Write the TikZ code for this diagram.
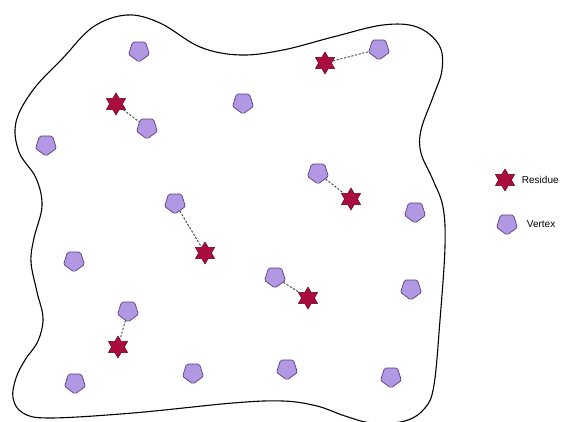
\documentclass[tikz,border=0pt]{standalone}
\usepackage{fontspec}
\setsansfont{Liberation Sans}
\usetikzlibrary{positioning,shapes.geometric}
\definecolor{lavender}{RGB}{178,152,226}
\definecolor{lavenderdark}{RGB}{88,62,130}
\definecolor{crimson}{RGB}{170,12,62}
\definecolor{crimsondark}{RGB}{92,0,32}
\tikzset{
  vert/.style={
    regular polygon,
    regular polygon sides=5,
    shape border rotate=180,
    draw=lavenderdark,
    fill=lavender,
    minimum size=22pt,
    inner sep=0pt,
    line width=.7pt,
    rounded corners=1.5pt
  },
  resid/.style={
    star,
    star points=6,
    star point ratio=1.7,
    draw=crimsondark,
    fill=crimson,
    minimum size=22pt,
    inner sep=0pt,
    line width=.5pt
  },
  link/.style={
    dash pattern=on 2.2pt off 1.6pt,
    line width=.9pt,
    black!75
  },
  legend/.style={
    font=\sffamily\fontsize{10}{12}\selectfont,
    inner sep=0pt
  }
}

\begin{document}
\begin{tikzpicture}[x=1pt,y=-1pt,node distance=10pt]
\useasboundingbox (0,0) rectangle (566,422);
% region outline
\draw[line width=1.1pt, line join=round] plot[smooth cycle, tension=.6] coordinates {
  (93,27) (127,15) (160,23) (200,47) (240,55) (283,50) (333,37) (383,25)
  (417,27) (439,45) (442,70) (433,97) (421,130) (421,153) (433,180)
  (443,207) (445,247) (440,320) (434,385) (425,408) (405,421) (372,423)
  (345,416) (317,406) (283,401) (233,403) (133,413) (50,418) (23,413)
  (13,398) (16,378) (25,360) (38,341) (43,318) (37,292) (31,262)
  (34,238) (42,206) (36,178) (19,152) (16,122) (33,90) (63,58)};
% vertices
\node[vert] (v1) at (139,51) {};
\node[vert] (v2) at (379,49) {};
\node[vert] (v3) at (243,103) {};
\node[vert] (v4) at (147,128) {};
\node[vert] (v5) at (46,145) {};
\node[vert] (v6) at (318,173) {};
\node[vert] (v7) at (415,212) {};
\node[vert] (v8) at (175,203) {};
\node[vert] (v9) at (74,261) {};
\node[vert] (v10) at (275,277) {};
\node[vert] (v11) at (411,289) {};
\node[vert] (v12) at (128,311) {};
\node[vert] (v13) at (75,383) {};
\node[vert] (v14) at (193,373) {};
\node[vert] (v15) at (287,369) {};
\node[vert] (v16) at (391,377) {};
% residues
\node[resid] (r1) at (325,63) {};
\node[resid] (r2) at (116,104) {};
\node[resid] (r3) at (351,199) {};
\node[resid] (r4) at (205,253) {};
\node[resid] (r5) at (308,298) {};
\node[resid] (r6) at (118,347) {};
% pairs
\draw[link] (r1) -- (v2);
\draw[link] (r2) -- (v4);
\draw[link] (v6) -- (r3);
\draw[link] (v8) -- (r4);
\draw[link] (v10) -- (r5);
\draw[link] (v12) -- (r6);
% legend
\node[resid] (kr) at (505,180) {};
\node[legend, right=of kr] (kr-text) {Residue};
\node[vert] (kv) at (507,224) {};
\node[legend, right=of kv] (kv-text) {Vertex};
\end{tikzpicture}
\end{document}
